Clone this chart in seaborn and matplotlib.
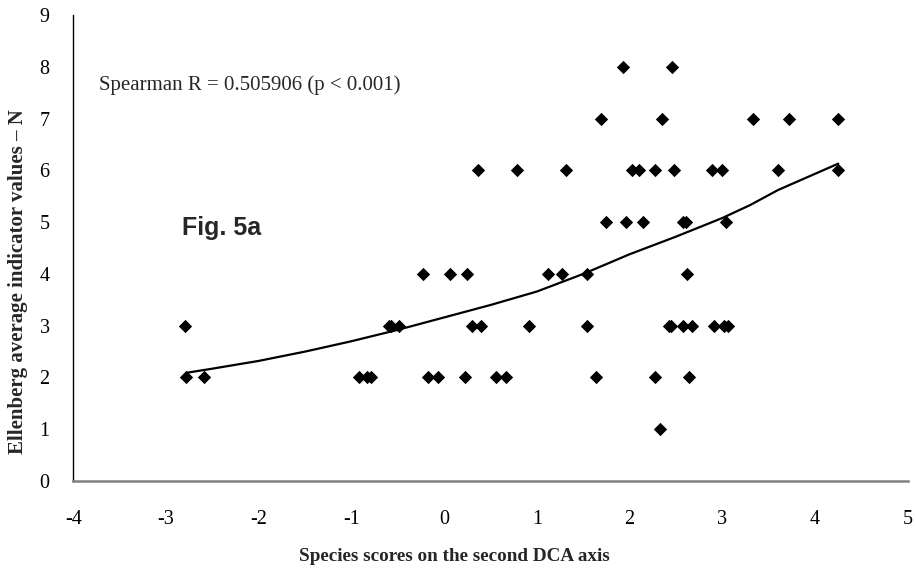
import matplotlib
matplotlib.use('Agg')
import matplotlib.pyplot as plt
import seaborn as sns
import pandas as pd


# DATA

dca_x = [1.93, 2.46,
         1.69, 2.35, 3.33, 3.72, 4.25,
         0.37, 0.79, 1.31, 2.03, 2.10, 2.27, 2.48, 2.89, 3.00, 3.60, 4.25,
         1.75, 1.96, 2.14, 2.58, 2.61, 3.04,
         -0.23, 0.06, 0.25, 1.12, 1.27, 1.54, 2.62,
         -2.80, -0.60, -0.57, -0.49, 0.30, 0.40, 0.91, 1.54, 2.42, 2.45, 2.58, 2.67, 2.91, 3.02, 3.06,
         -2.78, -2.59, -0.92, -0.83, -0.79, -0.17, -0.07, 0.22, 0.56, 0.67, 1.64, 2.27, 2.64,
         2.33]
ellenberg_n = [8, 8,
               7, 7, 7, 7, 7,
               6, 6, 6, 6, 6, 6, 6, 6, 6, 6, 6,
               5, 5, 5, 5, 5, 5,
               4, 4, 4, 4, 4, 4, 4,
               3, 3, 3, 3, 3, 3, 3, 3, 3, 3, 3, 3, 3, 3, 3,
               2, 2, 2, 2, 2, 2, 2, 2, 2, 2, 2, 2, 2,
               1]

trend_x = [-2.78, -2.5, -2.0, -1.5, -1.0, -0.5, 0.0, 0.5, 1.0, 1.5, 2.0, 2.5, 3.0, 3.3, 3.6, 4.25]
trend_y = [2.09, 2.17, 2.32, 2.50, 2.70, 2.92, 3.16, 3.40, 3.66, 4.00, 4.38, 4.72, 5.08, 5.33, 5.62, 6.13]

x_ticks = [-4, -3, -2, -1, 0, 1, 2, 3, 4, 5]
y_ticks = [0, 1, 2, 3, 4, 5, 6, 7, 8, 9]


def grafica_dca_ellenberg():
    df = pd.DataFrame({'dca': dca_x, 'N': ellenberg_n})
    df_trend = pd.DataFrame({'dca': trend_x, 'N': trend_y})

    sns.set_style('white')
    plt.rcParams['font.family'] = ['Liberation Serif', 'DejaVu Serif']
    plt.rcParams['axes.unicode_minus'] = False

    fig = plt.figure(figsize=(9.16, 5.71), dpi=100)
    ax = fig.add_axes([0.080, 0.1576, 0.911, 0.816])

    sns.lineplot(x='dca', y='N', data=df_trend, ax=ax, color='black',
                 linewidth=1.6, sort=False, estimator=None)
    sns.scatterplot(x='dca', y='N', data=df, ax=ax, marker='D', color='black',
                    s=46, linewidth=0, zorder=3)

    ax.set_xlim(-4, 5)
    ax.set_ylim(0, 9)
    ax.set_xticks(x_ticks)
    ax.set_yticks(y_ticks)
    ax.tick_params(axis='both', direction='out', length=6, width=1,
                   color='black', labelsize=14.5, labelcolor='black')
    ax.tick_params(axis='y', pad=11)
    ax.tick_params(axis='x', pad=15)

    sns.despine(ax=ax)
    ax.spines['left'].set_color('black')
    ax.spines['left'].set_linewidth(1)
    ax.spines['bottom'].set_color('#808080')
    ax.spines['bottom'].set_linewidth(1.8)

    ax.set_xlabel('Species scores on the second DCA axis', fontsize=13.8,
                  fontweight='bold')
    ax.xaxis.set_label_coords(0.457, -0.161)
    ax.xaxis.label.set_verticalalignment('center')

    ax.set_ylabel('Ellenberg average indicator values \u2013 N', fontsize=15,
                  fontweight='bold')
    ax.yaxis.set_label_coords(-0.066, 0.427)
    ax.yaxis.label.set_verticalalignment('center')
    ax.yaxis.label.set_horizontalalignment('center')

    ax.text(-3.72, 7.65, 'Spearman R = 0.505906 (p < 0.001)', fontsize=15,
            va='center', ha='left')
    ax.text(-2.83, 4.88, 'Fig. 5a', fontsize=18, fontweight='bold',
            family=['Liberation Sans', 'DejaVu Sans'], va='center', ha='left')

    fig.savefig('out.png', dpi=100)


grafica_dca_ellenberg()
